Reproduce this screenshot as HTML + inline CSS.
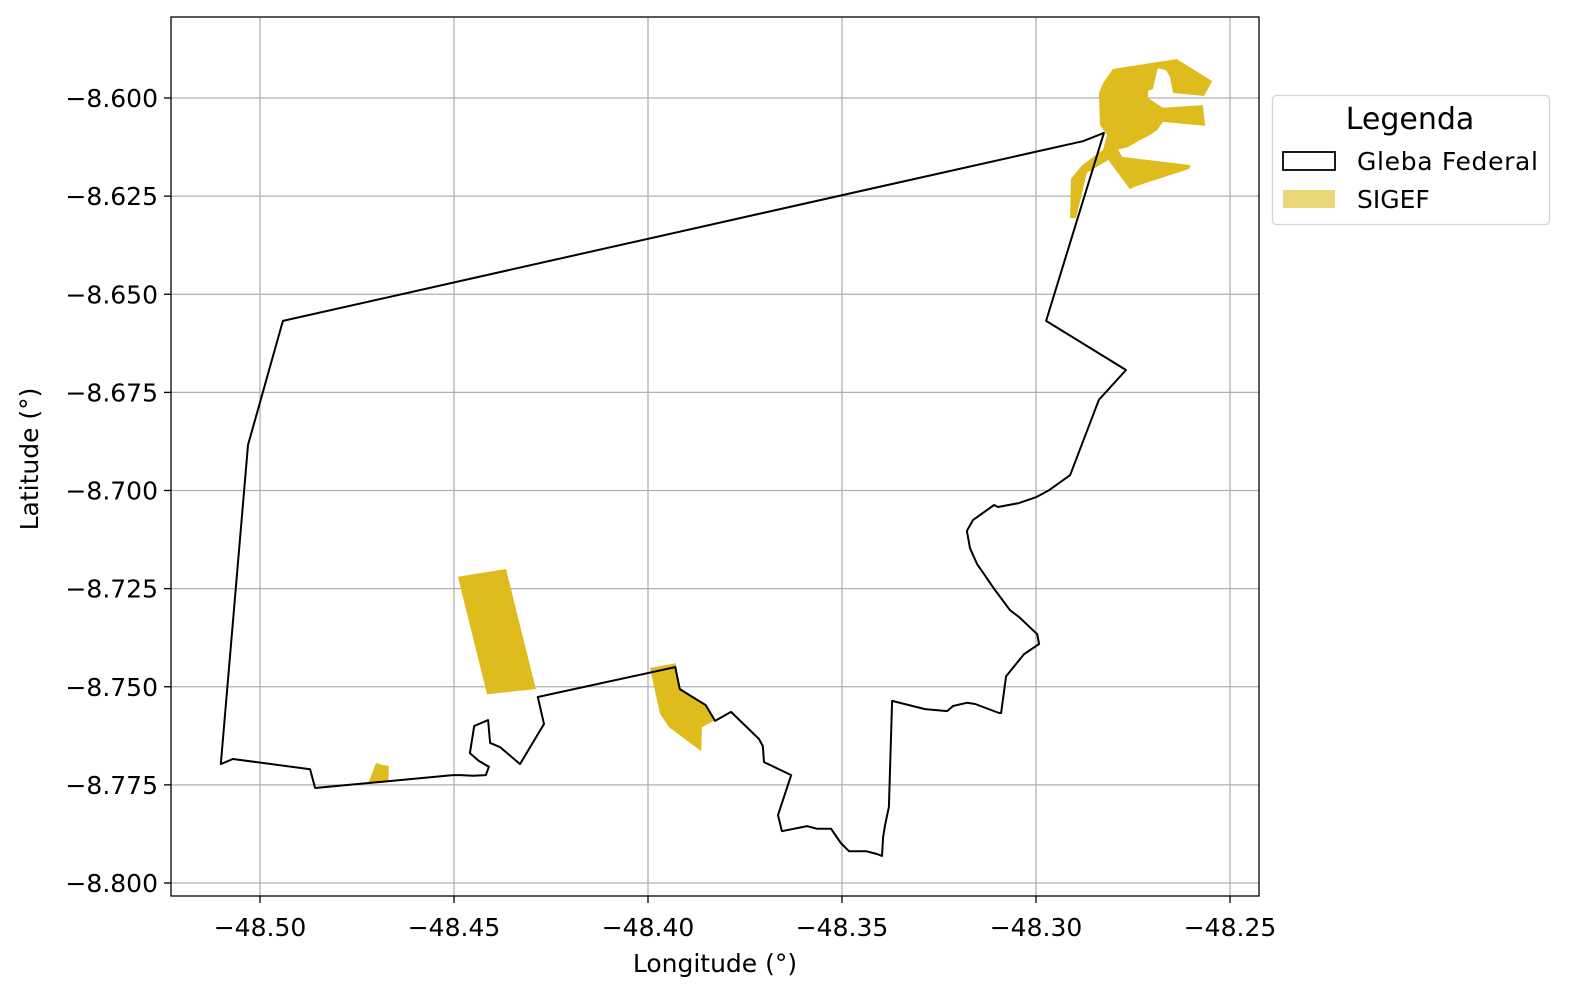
<!DOCTYPE html>
<html><head><meta charset="utf-8"><style>
body{margin:0;background:#fff;}
svg{display:block;font-family:"DejaVu Sans","Liberation Sans",sans-serif;}
</style></head><body>
<svg id="chart" width="1584" height="1006" viewBox="0 0 1584 1006" xmlns="http://www.w3.org/2000/svg">
<rect width="1584" height="1006" fill="#fff"/>
<g id="grid"></g>
<g id="sigef"></g>
<g id="gleba"></g>
<rect x="171" y="17" width="1088" height="879" fill="none" stroke="#000" stroke-width="1.3"/>
<g id="ticks"></g>
<text x="715" y="972" font-size="25" text-anchor="middle">Longitude (°)</text>
<text x="38" y="459" font-size="25" text-anchor="middle" transform="rotate(-90 38 459)">Latitude (°)</text>
<g>
<rect x="1272.5" y="95.5" width="277" height="129" rx="4" fill="#fff" stroke="#d5d5d5" stroke-width="1.3"/>
<text x="1410" y="129" font-size="30" text-anchor="middle">Legenda</text>
<rect x="1283" y="152" width="52" height="18" fill="none" stroke="#000" stroke-width="1.8"/>
<text x="1357" y="170" font-size="25" textLength="181">Gleba Federal</text>
<rect x="1283" y="190" width="52" height="18" fill="#ebd678"/>
<text x="1357" y="208" font-size="25">SIGEF</text>
</g>
</svg>
<script>
const xTicks=[-48.50,-48.45,-48.40,-48.35,-48.30,-48.25];
const xTickLabels=["−48.50","−48.45","−48.40","−48.35","−48.30","−48.25"];
const yTicks=[-8.600,-8.625,-8.650,-8.675,-8.700,-8.725,-8.750,-8.775,-8.800];
const yTickLabels=["−8.600","−8.625","−8.650","−8.675","−8.700","−8.725","−8.750","−8.775","−8.800"];
const glebaLon=[-48.2825,-48.2879,-48.3763,-48.4941,-48.5031,-48.5101,-48.5070,-48.4871,-48.4858,-48.4503,-48.4482,-48.4451,-48.4418,-48.4410,-48.4436,-48.4459,-48.4448,-48.4412,-48.4407,-48.4381,-48.4330,-48.4268,-48.4284,-48.3930,-48.3918,-48.3851,-48.3827,-48.3786,-48.3714,-48.3704,-48.3701,-48.3631,-48.3665,-48.3655,-48.3590,-48.3564,-48.3528,-48.3503,-48.3482,-48.3438,-48.3410,-48.3397,-48.3394,-48.3389,-48.3379,-48.3371,-48.3286,-48.3229,-48.3214,-48.3178,-48.3157,-48.3095,-48.3090,-48.3077,-48.3031,-48.2992,-48.2997,-48.3044,-48.3067,-48.3111,-48.3129,-48.3152,-48.3170,-48.3178,-48.3162,-48.3108,-48.3098,-48.3044,-48.3000,-48.2966,-48.2912,-48.2838,-48.2768,-48.2974];
const glebaLat=[-8.6089,-8.6110,-8.6306,-8.6568,-8.6884,-8.7697,-8.7684,-8.7710,-8.7758,-8.7725,-8.7725,-8.7727,-8.7725,-8.7704,-8.7689,-8.7669,-8.7600,-8.7585,-8.7643,-8.7654,-8.7697,-8.7595,-8.7526,-8.7450,-8.7506,-8.7547,-8.7587,-8.7564,-8.7633,-8.7651,-8.7692,-8.7725,-8.7827,-8.7868,-8.7855,-8.7862,-8.7862,-8.7898,-8.7919,-8.7919,-8.7926,-8.7931,-8.7883,-8.7852,-8.7806,-8.7536,-8.7557,-8.7562,-8.7549,-8.7541,-8.7544,-8.7567,-8.7567,-8.7473,-8.7417,-8.7391,-8.7366,-8.7322,-8.7305,-8.7246,-8.7220,-8.7187,-8.7147,-8.7103,-8.7075,-8.7037,-8.7042,-8.7032,-8.7017,-8.6999,-8.6961,-8.6769,-8.6693,-8.6568];
const sigefRectLon=[-48.4490,-48.4366,-48.4289,-48.4415];
const sigefRectLat=[-8.7220,-8.7200,-8.7506,-8.7519];
const sigefSmallLon=[-48.4722,-48.4701,-48.4686,-48.4668,-48.4668,-48.4670];
const sigefSmallLat=[-8.7748,-8.7694,-8.7699,-8.7702,-8.7722,-8.7743];
const sigefMidLon=[-48.3995,-48.3928,-48.3918,-48.3851,-48.3830,-48.3861,-48.3863,-48.3946,-48.3969];
const sigefMidLat=[-8.7452,-8.7440,-8.7503,-8.7544,-8.7587,-8.7603,-8.7664,-8.7603,-8.7569];
const sigefNorthLon=[-48.2802,-48.2706,-48.2637,-48.2546,-48.2567,-48.2647,-48.2655,-48.2665,-48.2686,-48.2699,-48.2711,-48.2711,-48.2673,-48.2570,-48.2564,-48.2673,-48.2688,-48.2711,-48.2732,-48.2763,-48.2791,-48.2817,-48.2835,-48.2838,-48.2827];
const sigefNorthLat=[-8.5926,-8.5911,-8.5901,-8.5957,-8.5995,-8.5987,-8.5946,-8.5929,-8.5924,-8.5977,-8.5982,-8.6000,-8.6025,-8.6018,-8.6071,-8.6061,-8.6082,-8.6097,-8.6107,-8.6125,-8.6132,-8.6094,-8.6069,-8.5987,-8.5962];
const sigefNorthEastLon=[-48.2814,-48.2778,-48.2601,-48.2606,-48.2740,-48.2758,-48.2814,-48.2869,-48.2897,-48.2912,-48.2910,-48.2881,-48.2827];
const sigefNorthEastLat=[-8.6082,-8.6150,-8.6171,-8.6181,-8.6224,-8.6232,-8.6158,-8.6191,-8.6306,-8.6306,-8.6206,-8.6171,-8.6132];

const NS="http://www.w3.org/2000/svg";
function xScale(lon){return 260+(lon+48.5)*3880;}
function yScale(lat){return 98+(-8.6-lat)*3925;}
function mk(tag,attrs,parent){const e=document.createElementNS(NS,tag);for(const k in attrs)e.setAttribute(k,attrs[k]);parent.appendChild(e);return e;}
const grid=document.getElementById('grid'),ticks=document.getElementById('ticks');
xTicks.forEach((v,i)=>{const x=xScale(v);
 const g=mk('line',{x1:x,x2:x,y1:17,y2:896,stroke:'#b0b0b0','stroke-width':1.3},grid);
 
 
 const t=mk('line',{x1:x,x2:x,y1:896,y2:903,stroke:'#000','stroke-width':1.3},ticks);
 
 
 const l=mk('text',{x:x,y:936,'font-size':25,'text-anchor':'middle'},ticks);l.textContent=xTickLabels[i];
 
 
});
yTicks.forEach((v,i)=>{const y=yScale(v);
 const g=mk('line',{x1:171,x2:1259,y1:y,y2:y,stroke:'#b0b0b0','stroke-width':1.3},grid);
 
 
 const t=mk('line',{x1:164,x2:171,y1:y,y2:y,stroke:'#000','stroke-width':1.3},ticks);
 
 
 const l=mk('text',{x:158,y:y+9,'font-size':25,'text-anchor':'end'},ticks);l.textContent=yTickLabels[i];
 
 
});
function pts(lons,lats){return lons.map((v,i)=>xScale(v).toFixed(1)+','+yScale(lats[i]).toFixed(1)).join(' ');}
const sg=document.getElementById('sigef');
[[sigefRectLon,sigefRectLat,'sigef-parcel-rect'],[sigefSmallLon,sigefSmallLat,'sigef-parcel-small'],[sigefMidLon,sigefMidLat,'sigef-parcel-mid'],[sigefNorthLon,sigefNorthLat,'sigef-parcel-north'],[sigefNorthEastLon,sigefNorthEastLat,'sigef-parcel-northeast']].forEach(p=>{
 const e=mk('polygon',{points:pts(p[0],p[1]),fill:'#dfbc1e'},sg);
 
 
});
const gb=mk('polygon',{points:pts(glebaLon,glebaLat),fill:'none',stroke:'#000','stroke-width':2,'stroke-linejoin':'round'},document.getElementById('gleba'));


</script>
</body></html>
